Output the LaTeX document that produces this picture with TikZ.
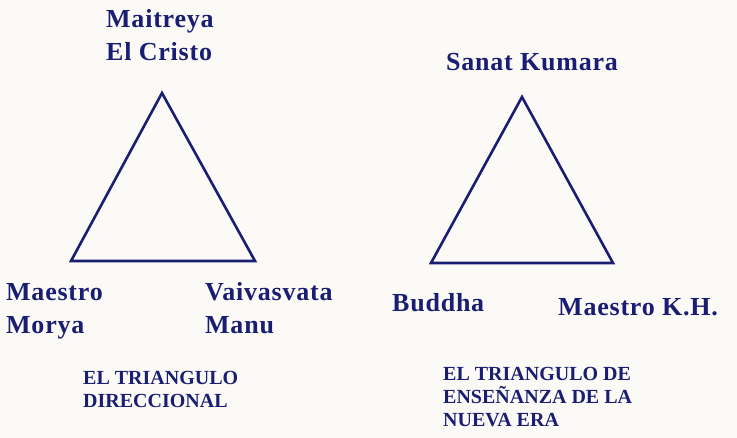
\documentclass[tikz,border=0pt]{standalone}
\usepackage{fontspec}
\setmainfont{Liberation Serif}
\newfontfamily\namefont[LetterSpace=3]{Liberation Serif}
\definecolor{ink}{HTML}{1A1E72}
\definecolor{paper}{HTML}{FBFAF6}
\begin{document}
\begin{tikzpicture}[x=1pt,y=-1pt,
  tri/.style={draw=ink,line width=2.6pt,line join=miter},
  namelbl/.style={text=ink,font=\namefont\bfseries\fontsize{26}{33}\selectfont,align=left,anchor=north west,inner sep=0pt},
  caplbl/.style={text=ink,font=\bfseries\fontsize{20}{23}\selectfont,align=left,anchor=north west,inner sep=0pt}]
\fill[paper] (0,0) rectangle (737,438);
\useasboundingbox (0,0) rectangle (737,438);
% left triangle
\coordinate (la) at (162,93);
\coordinate (ll) at (71,261);
\coordinate (lr) at (255,261);
\draw[tri] (la) -- (ll) -- (lr) -- cycle;
% right triangle
\coordinate (ra) at (522,97);
\coordinate (rl) at (431,263);
\coordinate (rr) at (613,263);
\draw[tri] (ra) -- (rl) -- (rr) -- cycle;
% names
\node[namelbl] (maitreya) at (106,9) {Maitreya\\El Cristo};
\node[namelbl] (morya) at (6,283) {Maestro\\Morya};
\node[namelbl] (manu) at (205,282) {Vaivasvata\\Manu};
\node[namelbl] (sanat) at (446,53) {Sanat Kumara};
\node[namelbl] (buddha) at (392,293) {Buddha};
\node[namelbl] (kh) at (558,298) {Maestro K.H.};
% captions
\node[caplbl] (capl) at (83,371.5) {EL TRIANGULO\\DIRECCIONAL};
\node[caplbl] (capr) at (443,367.5) {EL TRIANGULO DE\\ENSEÑANZA DE LA\\NUEVA ERA};
\end{tikzpicture}
\end{document}
